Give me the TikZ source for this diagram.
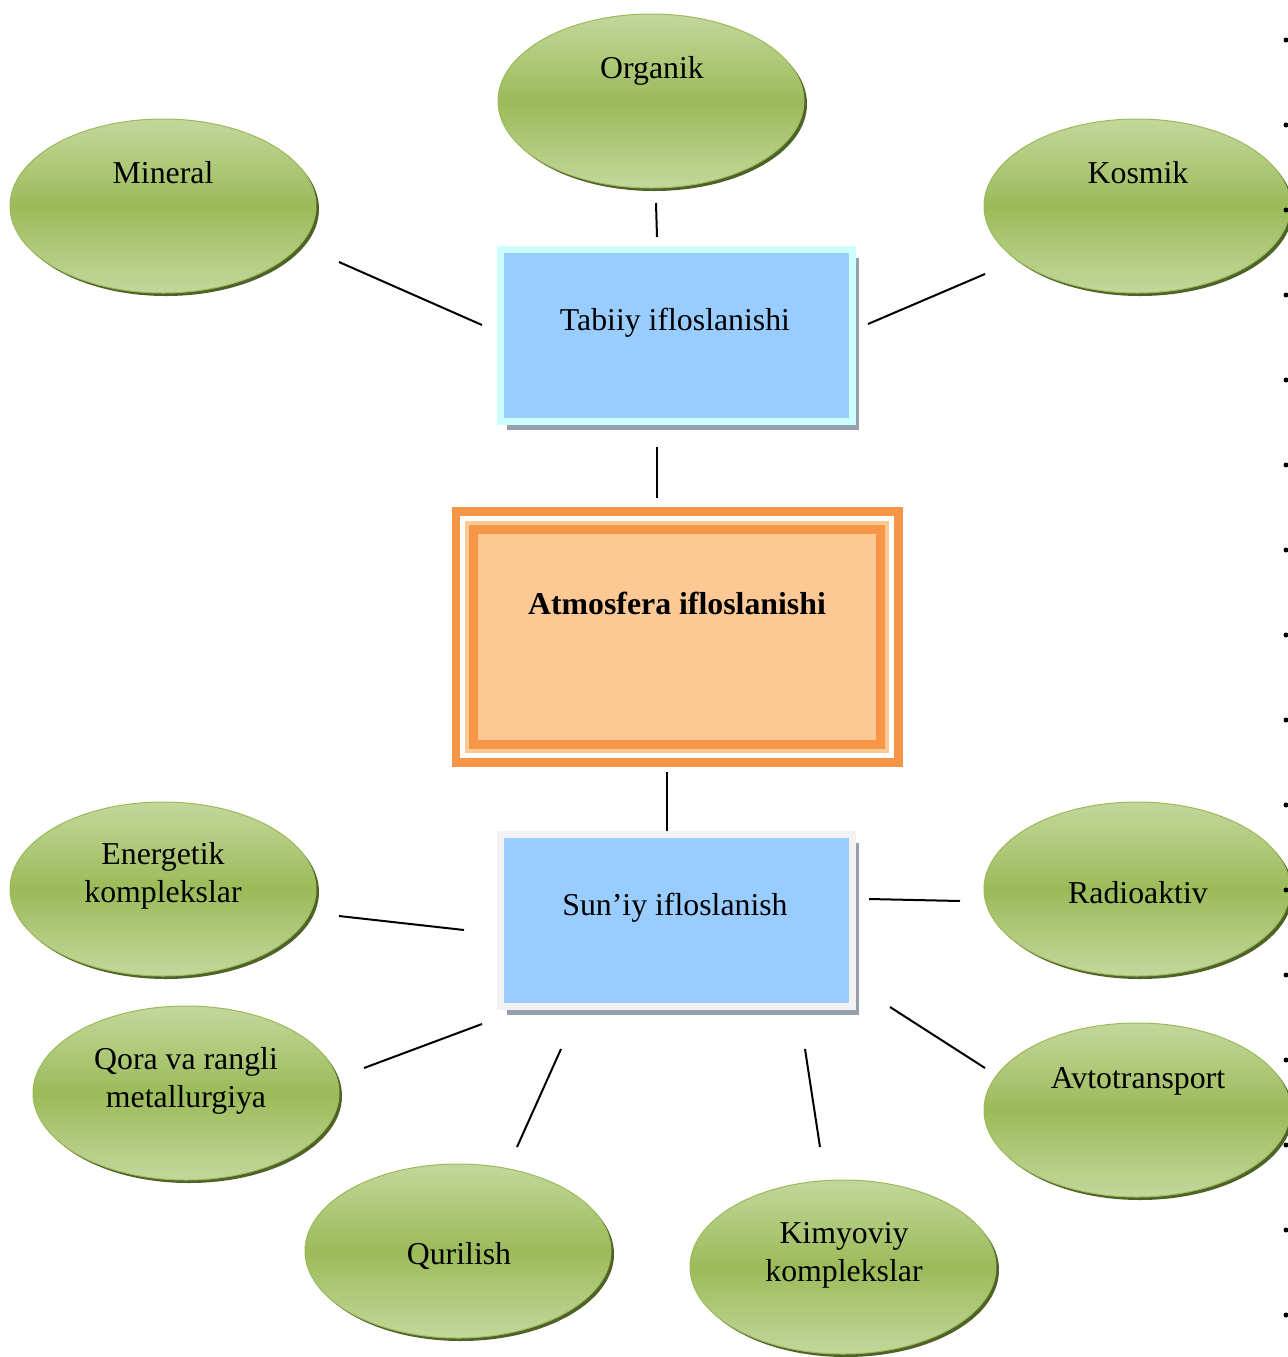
\documentclass[tikz,border=0pt]{standalone}
\usepackage{fontspec}
\setmainfont{Liberation Serif}
\usetikzlibrary{shapes.geometric,shadows}

\newlength\pxu
\setlength\pxu{0.02cm}

\definecolor{leafmid}{HTML}{9BBB59}
\definecolor{leaflight}{HTML}{C4D79C}
\definecolor{leafdark}{HTML}{4F6228}
\definecolor{boxblue}{HTML}{99CCFF}
\definecolor{boxcyan}{HTML}{CCFFFF}
\definecolor{boxgray}{HTML}{F2F2F2}
\definecolor{boxshade}{HTML}{95A0AF}
\definecolor{atmoorange}{HTML}{F79646}
\definecolor{atmolight}{HTML}{FCC995}

\tikzset{
    leaf/.style={ellipse, inner sep=0, minimum width=306\pxu, minimum height=174\pxu,
        draw=leafmid, line width=1\pxu,
        top color=leaflight, bottom color=leaflight, middle color=leafmid,
        drop shadow={shadow xshift=3\pxu, shadow yshift=-3\pxu, fill=leafdark, opacity=1}},
    srcbox/.style={draw=#1, line width=7\pxu, fill=boxblue, inner sep=0,
        minimum width=352\pxu, minimum height=172\pxu,
        drop shadow={shadow xshift=6.5\pxu, shadow yshift=-8\pxu, fill=boxshade, opacity=1}},
    lbl/.style={font=\fontsize{18.1}{21.5}\selectfont, align=center, inner sep=0},
    link/.style={line width=2\pxu, black}
}

\begin{document}
\begin{tikzpicture}[x=0.02cm, y=-0.02cm]
    \useasboundingbox (0,0) rectangle (1288,1357);

    \coordinate (o1) at (656,203);  \coordinate (o2) at (657,237);
    \coordinate (m1) at (339,262);  \coordinate (m2) at (482,325);
    \coordinate (k1) at (985,274);  \coordinate (k2) at (868,324);
    \coordinate (t1) at (657,447);  \coordinate (t2) at (657,498);
    \coordinate (s1) at (667,772);  \coordinate (s2) at (667,834);
    \coordinate (e1) at (339,916);  \coordinate (e2) at (464,930);
    \coordinate (r1) at (960,901);  \coordinate (r2) at (869,899);
    \coordinate (q1) at (364,1068); \coordinate (q2) at (482,1024);
    \coordinate (u1) at (517,1147); \coordinate (u2) at (561,1049);
    \coordinate (c1) at (820,1147); \coordinate (c2) at (805,1049);
    \coordinate (a1) at (985,1068); \coordinate (a2) at (890,1007);

    \foreach \a/\b in {o1/o2, m1/m2, k1/k2, t1/t2, s1/s2, e1/e2, r1/r2, q1/q2, u1/u2, c1/c2, a1/a2} {
        \draw[link] (\a) -- (\b);
    }

    \node[leaf] (organik) at (651,101) {};
    \node[leaf] (mineral) at (163,206) {};
    \node[leaf] (kosmik) at (1137,206) {};
    \node[leaf] (energetik) at (163,889) {};
    \node[leaf] (metall) at (186,1093) {};
    \node[leaf] (qurilish) at (458,1251) {};
    \node[leaf] (kimyo) at (843,1267) {};
    \node[leaf] (radio) at (1137,889) {};
    \node[leaf] (avto) at (1137,1110) {};

    \node[srcbox=boxcyan] (tabiiy) at (676.5,335.75) {};
    \node[srcbox=boxgray] (suniy) at (676.5,920.5) {};

    \draw[atmoorange, line width=8.5\pxu] (456,511.5) rectangle (898.5,762.5);
    \node[draw=atmoorange, line width=9\pxu, fill=atmolight, inner sep=0,
        minimum width=407\pxu, minimum height=215\pxu,
        preaction={draw=atmolight, line width=17\pxu}] (atmo) at (677,637) {};

    \node[lbl] (organik-t) at (652,71) {Organik};
    \node[lbl] (mineral-t) at (163,173) {Mineral};
    \node[lbl] (kosmik-t) at (1138,173) {Kosmik};
    \node[lbl] (energetik-t) at (163,876) {Energetik\\komplekslar};
    \node[lbl] (metall-t) at (186,1081) {Qora va rangli\\metallurgiya};
    \node[lbl] (qurilish-t) at (459,1256) {Qurilish};
    \node[lbl] (kimyo-t) at (844,1255) {Kimyoviy\\komplekslar};
    \node[lbl] (radio-t) at (1138,893) {Radioaktiv};
    \node[lbl] (avto-t) at (1138,1081) {Avtotransport};
    \node[lbl] (tabiiy-t) at (675,323) {Tabiiy ifloslanishi};
    \node[lbl] (suniy-t) at (675,908) {Sun’iy ifloslanish};
    \node[lbl, font=\fontsize{18.1}{21.5}\selectfont\bfseries] (atmo-t) at (677,603) {Atmosfera ifloslanishi};

    \foreach \i in {0,...,15} {
        \fill (1286,{40+85*\i}) circle (2.5\pxu);
    }
\end{tikzpicture}
\end{document}
